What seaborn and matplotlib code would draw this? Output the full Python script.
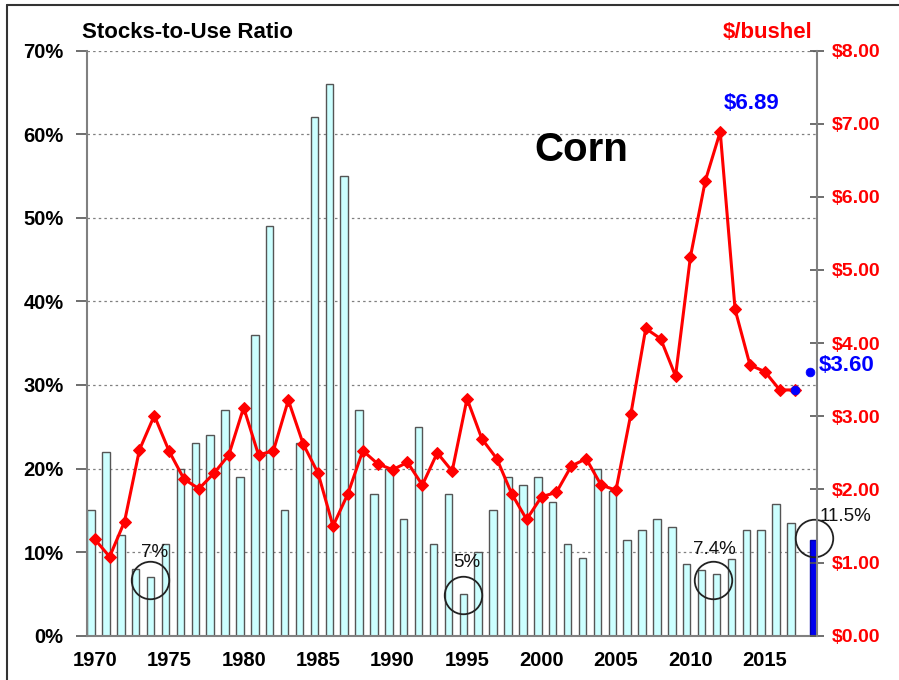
import numpy as np
import pandas as pd
import seaborn as sns
import matplotlib
matplotlib.use("Agg")
from matplotlib import pyplot as plt
from matplotlib.lines import Line2D

# ---- data ----
years = list(range(1970, 2018))
stocks_to_use = [15, 22, 12, 8, 7, 11, 20, 23, 24, 27,
                 19, 36, 49, 15, 23, 62, 66, 55, 27, 17,
                 20, 14, 25, 11, 17, 5, 10, 15, 19, 18,
                 19, 16, 11, 9.3, 20, 17.3, 11.5, 12.7, 14, 13,
                 8.6, 7.9, 7.4, 9.2, 12.6, 12.7, 15.7, 13.5]
price = [1.32, 1.08, 1.56, 2.54, 3.01, 2.52, 2.14, 2.01, 2.22, 2.47,
         3.12, 2.47, 2.53, 3.22, 2.62, 2.22, 1.50, 1.94, 2.53, 2.35,
         2.27, 2.37, 2.06, 2.50, 2.25, 3.24, 2.69, 2.42, 1.94, 1.59,
         1.90, 1.96, 2.32, 2.42, 2.06, 1.99, 3.03, 4.20, 4.06, 3.55,
         5.18, 6.22, 6.89, 4.46, 3.70, 3.61, 3.36, 3.36]

current_year = 2018
current_stocks = 11.5
proj_years = [2017, 2018]
proj_price = [3.36, 3.60]

# circled lows: (x, y, label, label_x, label_y)
callouts = [(1973.73, 6.7, "7%", 1974.0, 10.0),
            (1994.73, 4.9, "5%", 1995.0, 8.7),
            (2011.5, 6.7, "7.4%", 2011.6, 10.3),
            (2018.27, 11.7, "11.5%", 2020.4, 14.3)]

# ---- styling ----
sns.set_style("white")
plt.rcParams['font.family'] = ['Liberation Sans', 'DejaVu Sans']

bar_df = pd.DataFrame({
    "year": years + [current_year],
    "ratio": stocks_to_use + [current_stocks],
    "series": ["hist"] * len(years) + ["current"],
})

fig = plt.figure(figsize=(8.99, 6.8), dpi=100)
ax = fig.add_axes([0.0971, 0.0651, 0.9088 - 0.0971, 0.9257 - 0.0651])

sns.barplot(data=bar_df, x="year", y="ratio", hue="series",
            hue_order=["hist", "current"],
            palette={"hist": "#ccffff", "current": "#0000ee"},
            native_scale=True, dodge=True, width=1.0, errorbar=None,
            legend=False, ax=ax, saturation=1)
for p in ax.patches:
    fc = p.get_facecolor()
    if fc[2] > 0.9 and fc[0] < 0.1:
        p.set_edgecolor("#0000aa")
    else:
        p.set_edgecolor("#555555")
    p.set_linewidth(1.0)

ax.set_ylim(0, 70)
ax.set_yticks(range(0, 71, 10))
ax.set_yticklabels([f"{v}%" for v in range(0, 71, 10)])
ax.yaxis.grid(True, linestyle=(0, (2, 2.5)), color="#808080", lw=0.9)
ax.set_axisbelow(True)

ax.set_xlim(1969.5, 2018.5)
ax.set_xticks(range(1970, 2016, 5))
ax.set_xticklabels([str(y) for y in range(1970, 2016, 5)])
ax.set_xticks(np.arange(1969.5, 2018.6, 1.0), minor=True)
ax.tick_params(axis="x", which="major", length=0, pad=11)
ax.tick_params(axis="x", which="minor", direction="inout", length=11,
               width=1, color="#555555")
ax.tick_params(axis="y", direction="out", length=8, width=1.2,
               color="#555555", pad=9)
for lbl in ax.get_xticklabels() + ax.get_yticklabels():
    lbl.set_fontweight("bold")
    lbl.set_fontsize(14.5)
    lbl.set_color("black")
ax.set_xlabel("")
ax.set_ylabel("")

for s in ["left", "bottom"]:
    ax.spines[s].set_color("#808080")
    ax.spines[s].set_linewidth(1.5)
ax.spines["top"].set_visible(False)
ax.spines["right"].set_visible(False)

# circles and labels for the lows
for cx, cy, text, tx, ty in callouts:
    ax.plot([cx], [cy], marker="o", ms=27, mfc="none", mec="#222222",
            mew=1.3, clip_on=False, zorder=5)
    ax.text(tx, ty, text, ha="center", va="center", fontsize=13.5,
            color="#111111", clip_on=False, zorder=6)

# ---- price line on the right axis ----
ax2 = ax.twinx()
sns.lineplot(x=years, y=price, ax=ax2, color="#ff0000", lw=2.2,
             marker="D", markersize=6.5, markeredgecolor="#ff0000")
sns.scatterplot(x=proj_years, y=proj_price, ax=ax2, color="#0000ff",
                s=40, edgecolor="#0000ff", zorder=5)
ax2.set_ylim(0, 8)
ax2.set_yticks(range(0, 9))
ax2.set_yticklabels([f"${v:.2f}" for v in range(0, 9)])
ax2.tick_params(axis="y", direction="inout", length=10, width=1.2,
                color="#555555", pad=6)
for lbl in ax2.get_yticklabels():
    lbl.set_fontweight("bold")
    lbl.set_fontsize(14)
    lbl.set_color("#ff0000")
ax2.set_xlim(1969.5, 2018.5)
ax2.set_ylabel("")
for s in ["top", "left", "bottom"]:
    ax2.spines[s].set_visible(False)
ax2.spines["right"].set_color("#808080")
ax2.spines["right"].set_linewidth(1.5)

ax2.text(2014.1, 7.27, "$6.89", ha="center", va="center", fontsize=16,
         fontweight="bold", color="#0000ff")
ax2.text(2020.5, 3.69, "$3.60", ha="center", va="center", fontsize=16,
         fontweight="bold", color="#0000ff", clip_on=False)

# ---- titles ----
fig.text(188 / 899, 1 - 32 / 680, "Stocks-to-Use Ratio", ha="center",
         va="center", fontsize=16, fontweight="bold", color="black")
fig.text(768 / 899, 1 - 33 / 680, "$/bushel", ha="center", va="center",
         fontsize=16, fontweight="bold", color="#ff0000")
fig.text(581 / 899, 1 - 150 / 680, "Corn", ha="center", va="center",
         fontsize=29, fontweight="bold", color="black")

# outer frame (only top and left edges fall inside the image)
fig.add_artist(Line2D([7 / 899, 7 / 899], [0, 1 - 5 / 680],
                      transform=fig.transFigure, color="#333333", lw=1.5))
fig.add_artist(Line2D([7 / 899, 1], [1 - 5 / 680, 1 - 5 / 680],
                      transform=fig.transFigure, color="#333333", lw=1.5))

fig.savefig("out.png", dpi=100)
